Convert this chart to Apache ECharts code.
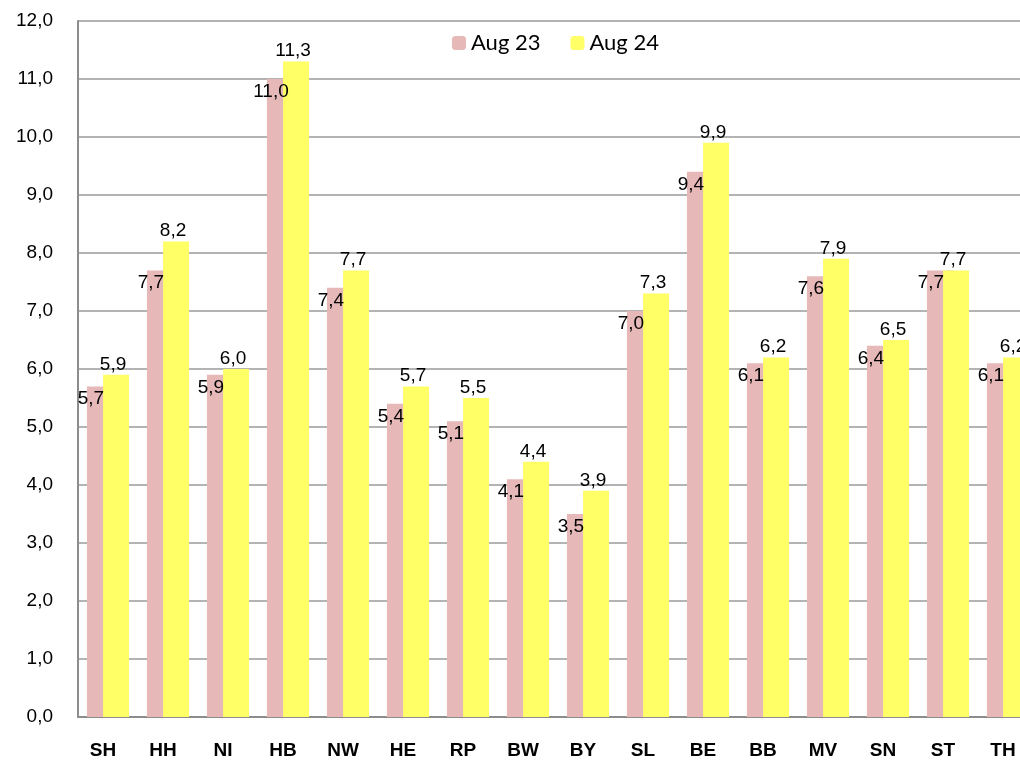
<!DOCTYPE html>
<html><head><meta charset="utf-8">
<script src="https://cdn.jsdelivr.net/npm/echarts@6/dist/echarts.min.js"></script>
<style>html,body{margin:0;padding:0;background:#fff;overflow:hidden;width:1020px;height:760px}#c{width:1040px;height:760px}</style>
</head><body><div id="c"></div>
<script>
const categories = ['SH','HH','NI','HB','NW','HE','RP','BW','BY','SL','BE','BB','MV','SN','ST','TH'];
const aug23 = [5.7,7.7,5.9,11.0,7.4,5.4,5.1,4.1,3.5,7.0,9.4,6.1,7.6,6.4,7.7,6.1];
const aug24 = [5.9,8.2,6.0,11.3,7.7,5.7,5.5,4.4,3.9,7.3,9.9,6.2,7.9,6.5,7.7,6.2];
const seriesNames = ['Aug 23','Aug 24'];
const fmt = v => v.toFixed(1).replace('.', ',');
const chart = echarts.init(document.getElementById('c'));
chart.setOption({
  animation:false,
  backgroundColor:'#fff',
  grid:{left:78, top:21, width:960, height:696},
  legend:{left:447, top:27, itemWidth:14, itemHeight:14, itemGap:30,
    textStyle:{fontFamily:'Lato', fontSize:22, color:'#000'},
    data:seriesNames},
  xAxis:{type:'category', data:categories,
    axisLine:{lineStyle:{color:'#8c8c8c', width:2}},
    axisTick:{show:false},
    axisLabel:{fontFamily:'Liberation Sans', fontWeight:'bold', fontSize:19, color:'#000', margin:24, padding:[0,10,0,0]}},
  yAxis:{type:'value', min:0, max:12, interval:1,
    axisLine:{show:true, lineStyle:{color:'#8c8c8c', width:2}},
    axisTick:{show:false},
    splitLine:{lineStyle:{color:'#9a9a9a', width:1.5}},
    axisLabel:{fontFamily:'Liberation Sans', fontSize:19, color:'#000', margin:25, formatter:v=>fmt(v)}},
  series:[
    {name:seriesNames[0], type:'bar', data:aug23, barWidth:26, barGap:'-38%',
     itemStyle:{color:'#E6B9B8'},
     label:{show:true, position:'insideTop', distance:3, offset:[-9,0],
       fontFamily:'Liberation Sans', fontSize:19, color:'#000', formatter:p=>fmt(p.value)}},
    {name:seriesNames[1], type:'bar', data:aug24, barWidth:26,
     itemStyle:{color:'#FFFF66'},
     label:{show:true, position:'top', distance:1, offset:[-3,0],
       fontFamily:'Liberation Sans', fontSize:19, color:'#000', formatter:p=>fmt(p.value)}}
  ]
});
</script></body></html>
